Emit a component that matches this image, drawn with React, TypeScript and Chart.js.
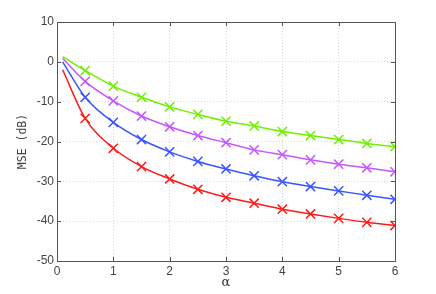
import React, { useEffect, useRef } from "react";
import { Chart, registerables } from "chart.js";

Chart.register(...registerables);

const alphas = [0.1, 0.5, 1, 1.5, 2, 2.5, 3, 3.5, 4, 4.5, 5, 5.5, 6];
const greenSeries = [1.3, -2.2, -6.1, -8.9, -11.3, -13.2, -14.9, -16.1, -17.5, -18.5, -19.5, -20.5, -21.3];
const purpleSeries = [0.9, -4.9, -9.8, -13.6, -16.3, -18.5, -20.3, -22.1, -23.3, -24.6, -25.7, -26.6, -27.6];
const blueSeries = [0.0, -8.9, -15.2, -19.5, -22.6, -25.0, -26.9, -28.6, -30.1, -31.3, -32.4, -33.5, -34.5];
const redSeries = [-2.0, -14.2, -21.7, -26.3, -29.4, -32.0, -34.0, -35.5, -37.0, -38.2, -39.3, -40.3, -41.1];
const xTicks = [0, 1, 2, 3, 4, 5, 6];
const yTicks = [-50, -40, -30, -20, -10, 0, 10];

const seriesList = [
  { data: greenSeries, color: "#6ef000" },
  { data: purpleSeries, color: "#c657ff" },
  { data: blueSeries, color: "#3a55ff" },
  { data: redSeries, color: "#ff1a1a" },
];

const frame = {
  id: "frame",
  afterDraw(chart: any) {
    const { ctx, chartArea: a, scales } = chart;
    ctx.save();
    ctx.strokeStyle = "#555";
    ctx.lineWidth = 1;
    ctx.strokeRect(a.left + 0.5, a.top + 0.5, a.right - a.left, a.bottom - a.top);
    const len = 4;
    ctx.beginPath();
    xTicks.forEach((t) => {
      const x = Math.round(scales.x.getPixelForValue(t)) + 0.5;
      ctx.moveTo(x, a.bottom);
      ctx.lineTo(x, a.bottom - len);
      ctx.moveTo(x, a.top);
      ctx.lineTo(x, a.top + len);
    });
    yTicks.forEach((t) => {
      const y = Math.round(scales.y.getPixelForValue(t)) + 0.5;
      ctx.moveTo(a.left, y);
      ctx.lineTo(a.left + len, y);
      ctx.moveTo(a.right, y);
      ctx.lineTo(a.right - len, y);
    });
    ctx.stroke();
    ctx.restore();
  },
};

export default function App() {
  const ref = useRef<HTMLCanvasElement>(null);
  useEffect(() => {
    if (!ref.current) return;
    const chart = new Chart(ref.current, {
      type: "line",
      data: {
        datasets: seriesList.map((s) => ({
          data: alphas.map((a, i) => ({ x: a, y: s.data[i] })),
          borderColor: s.color,
          backgroundColor: s.color,
          borderWidth: 1.5,
          pointStyle: "crossRot",
          pointRadius: alphas.map((_, i) => (i === 0 ? 0 : 6.5)),
          pointBorderWidth: 1.5,
          pointBorderColor: s.color,
          cubicInterpolationMode: "monotone",
          fill: false,
        })),
      },
      options: {
        animation: false,
        responsive: false,
        maintainAspectRatio: false,
        layout: { padding: { left: 0, right: 41, top: 22, bottom: 0 } },
        plugins: { legend: { display: false }, tooltip: { enabled: false } },
        scales: {
          x: {
            type: "linear",
            min: 0,
            max: 6,
            afterBuildTicks: (s: any) => {
              s.ticks = xTicks.map((v) => ({ value: v }));
            },
            afterFit: (s: any) => {
              s.height = 33;
            },
            grid: { color: "#d8d8d8", drawTicks: false },
            border: { display: false, dash: [1, 2] },
            ticks: { color: "#444", padding: 3, font: { family: "Liberation Sans", size: 12 } },
            title: {
              display: true,
              text: "α",
              color: "#333",
              font: { family: "DejaVu Serif", size: 13 },
              padding: { top: 0, bottom: 4 },
            },
          },
          y: {
            type: "linear",
            min: -50,
            max: 10,
            afterBuildTicks: (s: any) => {
              s.ticks = yTicks.map((v) => ({ value: v }));
            },
            afterFit: (s: any) => {
              s.width = 57;
            },
            grid: { color: "#d8d8d8", drawTicks: false },
            border: { display: false, dash: [1, 2] },
            ticks: { color: "#444", padding: 3, font: { family: "Liberation Sans", size: 12 } },
            title: {
              display: true,
              text: "MSE (dB)",
              color: "#444",
              font: { family: "DejaVu Sans Mono", size: 11.5 },
              padding: { top: 16, bottom: 0 },
            },
          },
        },
      },
      plugins: [frame],
    });
    return () => chart.destroy();
  }, []);
  return (
    <div style={{ position: "fixed", left: 0, top: 0, width: 436, height: 294, background: "#fff" }}>
      <canvas ref={ref} width={436} height={294} style={{ width: 436, height: 294 }} />
    </div>
  );
}
